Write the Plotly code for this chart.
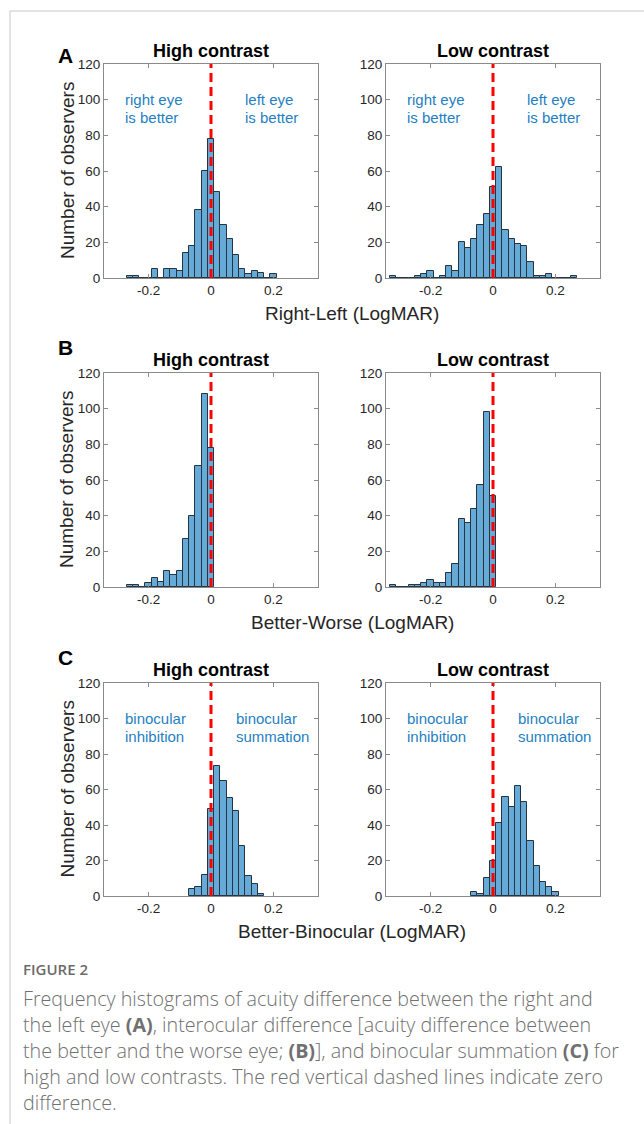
import plotly.graph_objects as go

# ---------------- data (bin centres in LogMAR, counts of observers) ----------------
A_high_bins = [-0.26, -0.24, -0.22, -0.20, -0.18, -0.16, -0.14, -0.12, -0.10, -0.08, -0.06, -0.04,
               -0.02, 0.00, 0.02, 0.04, 0.06, 0.08, 0.10, 0.12, 0.14, 0.16, 0.18, 0.20]
A_high_counts = [1, 1, 0, 0, 5, 0, 5, 5, 4, 14, 18, 38,
                 60, 78, 48, 30, 22, 13, 5, 2, 4, 3, 0, 2]

A_low_bins = [-0.32, -0.30, -0.28, -0.26, -0.24, -0.22, -0.20, -0.18, -0.16, -0.14, -0.12, -0.10,
              -0.08, -0.06, -0.04, -0.02, 0.00, 0.02, 0.04, 0.06, 0.08, 0.10, 0.12, 0.14,
              0.16, 0.18, 0.20, 0.22, 0.24, 0.26]
A_low_counts = [1, 0, 0, 0, 1, 2, 4, 0, 1, 7, 4, 20,
                17, 22, 30, 36, 51, 62, 27, 22, 19, 18, 9, 1,
                1, 2, 0, 0, 0, 1]

B_high_bins = [-0.26, -0.24, -0.22, -0.20, -0.18, -0.16, -0.14, -0.12, -0.10, -0.08, -0.06, -0.04,
               -0.02, 0.00]
B_high_counts = [1, 1, 0, 2, 5, 3, 9, 7, 9, 27, 40, 68, 108, 78]

B_low_bins = [-0.32, -0.30, -0.28, -0.26, -0.24, -0.22, -0.20, -0.18, -0.16, -0.14, -0.12, -0.10,
              -0.08, -0.06, -0.04, -0.02, 0.00]
B_low_counts = [1, 0, 0, 1, 1, 2, 4, 2, 2, 8, 13, 38, 36, 44, 57, 98, 51]

C_high_bins = [-0.06, -0.04, -0.02, 0.00, 0.02, 0.04, 0.06, 0.08, 0.10, 0.12, 0.14, 0.16]
C_high_counts = [4, 5, 12, 49, 73, 65, 55, 48, 28, 11, 7, 1]

C_low_bins = [-0.06, -0.04, -0.02, 0.00, 0.02, 0.04, 0.06, 0.08, 0.10, 0.12, 0.14, 0.16, 0.18, 0.20]
C_low_counts = [2, 1, 10, 20, 41, 56, 50, 62, 53, 31, 17, 8, 5, 2]

bin_width = 0.02
x_tick_vals = [-0.2, 0, 0.2]
x_tick_text = ["-0.2", "0", "0.2"]
y_tick_vals = [0, 20, 40, 60, 80, 100, 120]

panel_titles = ["High contrast", "Low contrast"]
row_letters = ["A", "B", "C"]
x_titles = ["Right-Left (LogMAR)", "Better-Worse (LogMAR)", "Better-Binocular (LogMAR)"]
y_title = "Number of observers"
side_labels = [(["right eye", "is better"], ["left eye", "is better"]),
               None,
               (["binocular", "inhibition"], ["binocular", "summation"])]

caption_head = "FIGURE 2"
caption_lines = [
    "Frequency histograms of acuity difference between the right and",
    "the left eye <b>(A)</b>, interocular difference [acuity difference between",
    "the better and the worse eye; <b>(B)</b>], and binocular summation <b>(C)</b> for",
    "high and low contrasts. The red vertical dashed lines indicate zero",
    "difference.",
]

# ---------------- layout helpers ----------------
W, H = 644, 1124
def fx(p):
    return p / W
def fy(p):
    return 1 - p / H

col_px = [(104, 318), (386, 600)]
row_px = [(64, 278), (373, 587), (683, 896)]
letter_y = [56, 347, 658]

FONT = "Liberation Sans, Arial, Helvetica, sans-serif"
BAR_FILL = "rgb(102,170,215)"
BAR_EDGE = "rgb(38,52,66)"
AX_COL = "#8a8a8a"
TXT = "#262626"
BLUE = "#1f7fc2"

data_sets = [
    [(A_high_bins, A_high_counts), (A_low_bins, A_low_counts)],
    [(B_high_bins, B_high_counts), (B_low_bins, B_low_counts)],
    [(C_high_bins, C_high_counts), (C_low_bins, C_low_counts)],
]

fig = go.Figure()
layout = dict(
    width=W, height=H, margin=dict(l=0, r=0, t=0, b=0, pad=0, autoexpand=False),
    paper_bgcolor="white", plot_bgcolor="white",
    showlegend=False, bargap=0,
    font=dict(family=FONT, color=TXT),
)
annotations = []
shapes = []

idx = 0
for r in range(3):
    y0, y1 = row_px[r]
    for c in range(2):
        idx += 1
        xs = "" if idx == 1 else str(idx)
        bins, counts = data_sets[r][c]
        fig.add_trace(go.Bar(
            x=bins, y=counts, width=[bin_width] * len(bins),
            marker=dict(color=BAR_FILL, line=dict(color=BAR_EDGE, width=1)),
            xaxis="x" + xs, yaxis="y" + xs, hoverinfo="x+y",
        ))
        x0, x1 = col_px[c]
        layout["xaxis" + xs] = dict(
            domain=[fx(x0), fx(x1)], anchor="y" + xs, range=[-0.343, 0.343],
            tickvals=x_tick_vals, ticktext=x_tick_text,
            ticks="inside", ticklen=4, tickcolor=AX_COL, mirror="ticks",
            showline=True, linecolor=AX_COL, linewidth=1,
            showgrid=False, zeroline=False, automargin=False,
            tickfont=dict(size=13.5, color=TXT, family=FONT),
        )
        layout["yaxis" + xs] = dict(
            domain=[fy(y1), fy(y0)], anchor="x" + xs, range=[0, 120],
            tickvals=y_tick_vals,
            ticks="inside", ticklen=4, tickcolor=AX_COL, mirror="ticks",
            showline=True, linecolor=AX_COL, linewidth=1,
            showgrid=False, zeroline=False, automargin=False,
            tickfont=dict(size=13.5, color=TXT, family=FONT),
        )
        # red dashed zero line
        shapes.append(dict(
            type="line", xref="x" + xs, yref="y" + xs, x0=0, x1=0, y0=0, y1=120,
            line=dict(color="red", width=3, dash="9px,5px"), layer="above",
        ))
        # panel title
        annotations.append(dict(
            text="<b>%s</b>" % panel_titles[c], xref="paper", yref="paper",
            x=fx((x0 + x1) / 2), y=fy(y0 - 13), xanchor="center", yanchor="middle",
            showarrow=False, font=dict(size=18, color="black"),
        ))
        if side_labels[r] is not None:
            lt, rt = side_labels[r]
            xr = 0.103 if r == 0 else 0.073
            for k, (lline, rline) in enumerate(zip(lt, rt)):
                yv = 100 - 10 * k
                annotations.append(dict(
                    text=lline, xref="x" + xs, yref="y" + xs, x=-0.282, y=yv,
                    xanchor="left", yanchor="middle", showarrow=False,
                    font=dict(size=15, color=BLUE),
                ))
                annotations.append(dict(
                    text=rline, xref="x" + xs, yref="y" + xs, x=xr, y=yv,
                    xanchor="left", yanchor="middle", showarrow=False,
                    font=dict(size=15, color=BLUE),
                ))
    # y title (left panels)
    annotations.append(dict(
        text=y_title, xref="paper", yref="paper", textangle=-90,
        x=fx(67), y=fy((y0 + y1) / 2), xanchor="center", yanchor="middle",
        showarrow=False, font=dict(size=19, color=TXT),
    ))
    # row letter and x title
    annotations.append(dict(
        text="<b>%s</b>" % row_letters[r], xref="paper", yref="paper",
        x=fx(65.5), y=fy(letter_y[r]), xanchor="center", yanchor="middle",
        showarrow=False, font=dict(size=21, color="black"),
    ))
    annotations.append(dict(
        text=x_titles[r], xref="paper", yref="paper",
        x=fx(352), y=fy(y1 + 35), xanchor="center", yanchor="middle",
        showarrow=False, font=dict(size=19, color=TXT),
    ))

# caption
CAP_FONT = "Open Sans, Lato, sans-serif"
annotations.append(dict(
    text=caption_head, xref="paper", yref="paper", x=fx(21), y=fy(969),
    xanchor="left", yanchor="middle", showarrow=False,
    font=dict(size=15, color="#6b6b6b", family=CAP_FONT, weight=600),
))
for i, line in enumerate(caption_lines):
    annotations.append(dict(
        text=line, xref="paper", yref="paper", x=fx(21), y=fy(998 + 26.1 * i),
        xanchor="left", yanchor="middle", showarrow=False,
        font=dict(size=19.7, color="#707070", family=CAP_FONT, weight=300),
    ))

# page border (card frame)
shapes.append(dict(type="line", xref="paper", yref="paper", x0=fx(10), x1=1, y0=fy(11), y1=fy(11),
                   line=dict(color="#c8c8c8", width=1)))
shapes.append(dict(type="line", xref="paper", yref="paper", x0=fx(10), x1=fx(10), y0=fy(11), y1=0,
                   line=dict(color="#c8c8c8", width=1)))

layout["annotations"] = annotations
layout["shapes"] = shapes
fig.update_layout(**layout)
fig.write_html(
    "out.html",
    config={"displayModeBar": False, "responsive": False},
    post_script=("document.documentElement.style.margin='0';"
                 "document.documentElement.style.overflow='hidden';"
                 "document.body.style.margin='0';"
                 "document.body.style.overflow='hidden';"),
)
